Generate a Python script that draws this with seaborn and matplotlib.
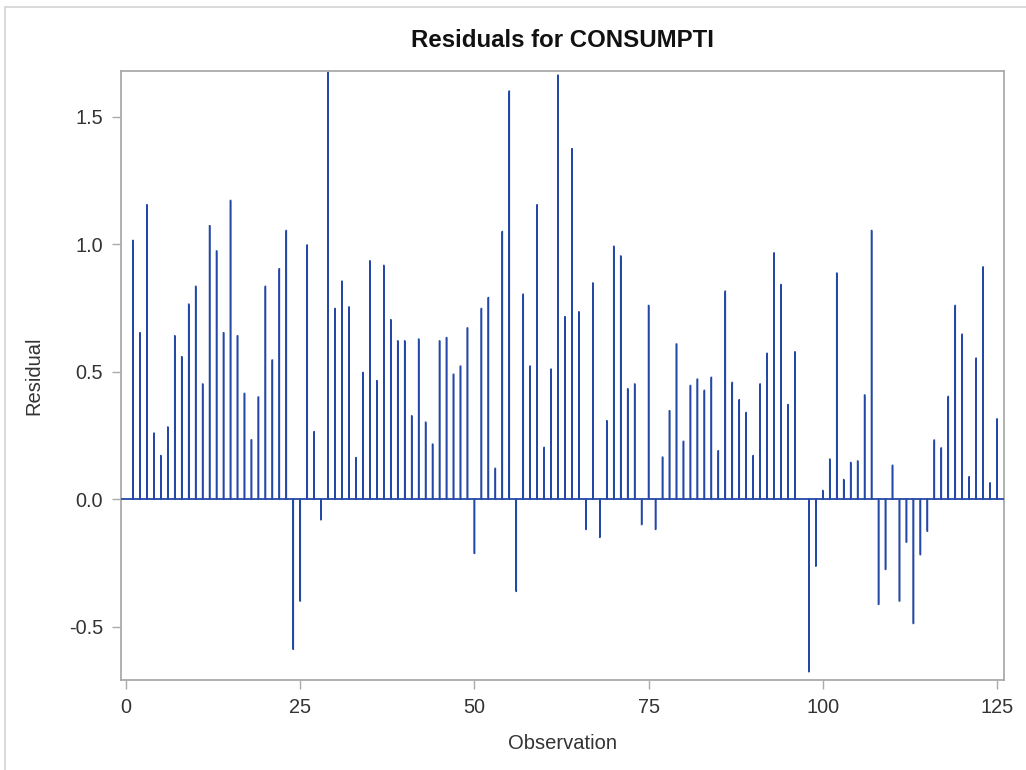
import matplotlib
matplotlib.use("Agg")
import matplotlib.pyplot as plt
from matplotlib.lines import Line2D
import numpy as np
import pandas as pd
import seaborn as sns

# Residuals by observation number (1..125)
observation = list(range(1, 126))
residual = [
    1.015, 0.653, 1.155, 0.259, 0.171, 0.283, 0.641, 0.559, 0.765, 0.835,
    0.452, 1.073, 0.974, 0.653, 1.172, 0.641, 0.415, 0.233, 0.401, 0.835,
    0.546, 0.904, 1.054, -0.588, -0.399, 0.997, 0.265, -0.080, 1.676, 0.748,
    0.855, 0.754, 0.163, 0.497, 0.935, 0.465, 0.917, 0.704, 0.621, 0.621,
    0.327, 0.628, 0.302, 0.216, 0.621, 0.634, 0.490, 0.522, 0.672, -0.212,
    0.748, 0.791, 0.121, 1.050, 1.601, -0.361, 0.804, 0.522, 1.155, 0.203,
    0.510, 1.663, 0.716, 1.375, 0.735, -0.118, 0.848, -0.149, 0.308, 0.992,
    0.954, 0.433, 0.452, -0.099, 0.760, -0.118, 0.165, 0.347, 0.609, 0.227,
    0.446, 0.471, 0.427, 0.478, 0.190, 0.816, 0.458, 0.390, 0.340, 0.171,
    0.452, 0.572, 0.966, 0.842, 0.371, 0.578, 0.000, -0.676, -0.262, 0.034,
    0.157, 0.887, 0.077, 0.144, 0.150, 0.409, 1.054, -0.412, -0.275, 0.133,
    -0.399, -0.168, -0.487, -0.217, -0.125, 0.232, 0.201, 0.403, 0.760, 0.647,
    0.088, 0.553, 0.911, 0.064, 0.315,
]

x_ticks = [0, 25, 50, 75, 100, 125]
y_ticks = [-0.5, 0.0, 0.5, 1.0, 1.5]
y_tick_labels = ["-0.5", "0.0", "0.5", "1.0", "1.5"]

df = pd.DataFrame({"Observation": observation, "Residual": residual})

sns.set_theme(style="white")
plt.rcParams["font.family"] = ["Liberation Sans", "DejaVu Sans"]

stem_color = "#2448a6"
frame_color = "#a8aaad"
text_color = "#333333"

fig = plt.figure(figsize=(10.26, 7.70), dpi=100)
ax = fig.add_axes([121 / 1026, 1 - 680 / 770, (1004 - 121) / 1026, (680 - 71) / 770])

# needle plot: hair-thin bars whose outline gives each stem a uniform width
sns.barplot(data=df, x="Observation", y="Residual", native_scale=True,
            width=0.02, color=stem_color, saturation=1,
            edgecolor=stem_color, linewidth=1.1, ax=ax)
for bar in ax.patches:
    bar.set_snap(False)
ax.axhline(0, color=stem_color, linewidth=1.3, zorder=3)

ax.set_xlim(-0.72, 126.0)
ax.set_ylim(-0.709, 1.68)
ax.set_xticks(x_ticks)
ax.set_xticklabels([str(t) for t in x_ticks])
ax.set_yticks(y_ticks)
ax.set_yticklabels(y_tick_labels)

for side in ["left", "right", "top", "bottom"]:
    ax.spines[side].set_visible(True)
    ax.spines[side].set_color(frame_color)
    ax.spines[side].set_linewidth(1.3)

ax.tick_params(axis="both", which="major", direction="out", length=6.5,
               width=1.0, color=frame_color, labelsize=14.3,
               labelcolor=text_color, pad=6.5, left=True, bottom=True)

ax.set_xlabel("Observation", fontsize=14.5, color=text_color, labelpad=12)
ax.set_ylabel("Residual", fontsize=14.5, color=text_color, labelpad=18)
ax.set_title("Residuals for CONSUMPTI", fontsize=17.3, fontweight="bold",
             color="#111111", pad=17.3)

# thin outer border on the left and top edges
border = "#d3d3d3"
fig.add_artist(Line2D([5 / 1026, 5 / 1026], [0, 1 - 7 / 770],
                      transform=fig.transFigure, color=border, linewidth=1.2))
fig.add_artist(Line2D([5 / 1026, 1], [1 - 7 / 770, 1 - 7 / 770],
                      transform=fig.transFigure, color=border, linewidth=1.2))

fig.savefig("out.png", dpi=100, facecolor="white")
